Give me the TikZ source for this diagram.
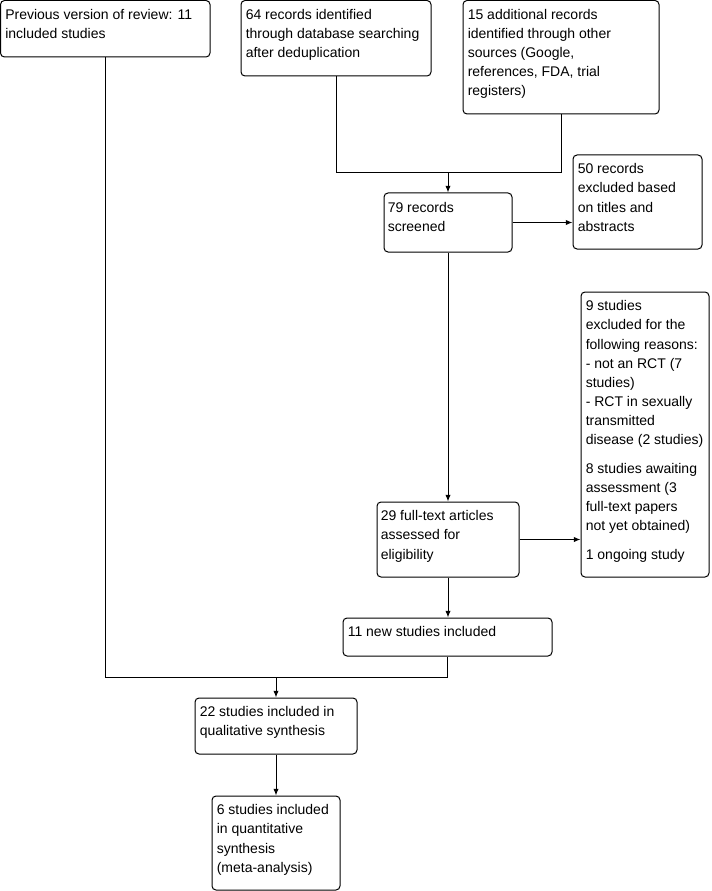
\documentclass[tikz,border=0pt]{standalone}
\usepackage{fontspec}
\setmainfont{Liberation Sans}
\usetikzlibrary{fit,arrows.meta}
\tikzset{
  box/.style={draw, line width=0.75pt, rounded corners=3pt, inner sep=0pt},
  txt/.style={anchor=north west, inner sep=0pt, align=left, font=\fontsize{10.5}{14.3}\selectfont},
  arr/.style={-{Latex[length=5pt,width=4pt]}, line width=0.75pt},
  ln/.style={line width=0.75pt}
}
\begin{document}
\begin{tikzpicture}[x=0.75pt,y=-0.75pt]
\useasboundingbox (0,0) rectangle (711,891);
% boxes
\node[box, fit={(0.5,0.5)(210,57)}] (prev) {};
\node[box, fit={(241,0.5)(431,76)}] (db) {};
\node[box, fit={(463,0.5)(659,114)}] (other) {};
\node[box, fit={(384,193)(512,252)}] (screen) {};
\node[box, fit={(573,155)(702,249)}] (excla) {};
\node[box, fit={(377,502)(519,577)}] (full) {};
\node[box, fit={(581,292)(709,577)}] (exclb) {};
\node[box, fit={(343,618)(552,656)}] (new) {};
\node[box, fit={(195,698)(357,754)}] (qual) {};
\node[box, fit={(212,796)(340,890)}] (quant) {};
% texts
\node[txt] (tprev) at ([shift={(5,9)}]prev.north west) {Previous version of review: 11\\included studies};
\node[txt] (tdb) at ([shift={(5,9)}]db.north west) {64 records identified\\through database searching\\after deduplication};
\node[txt] (tother) at ([shift={(5,9)}]other.north west) {15 additional records\\identified through other\\sources (Google,\\references, FDA, trial\\registers)};
\node[txt] (tscreen) at ([shift={(4,10)}]screen.north west) {79 records\\screened};
\node[txt] (texcla) at ([shift={(5,9)}]excla.north west) {50 records\\excluded based\\on titles and\\abstracts};
\node[txt] (tfull) at ([shift={(4,9)}]full.north west) {29 full-text articles\\assessed for\\eligibility};
\node[txt] (texclb) at ([shift={(5,9)}]exclb.north west) {9 studies\\excluded for the\\following reasons:\\- not an RCT (7\\studies)\\- RCT in sexually\\transmitted\\disease (2 studies)\\[7.5pt]8 studies awaiting\\assessment (3\\full-text papers\\not yet obtained)\\[7.5pt]1 ongoing study};
\node[txt] (tnew) at ([shift={(5,9)}]new.north west) {11 new studies included};
\node[txt] (tqual) at ([shift={(5,9)}]qual.north west) {22 studies included in\\qualitative synthesis};
\node[txt] (tquant) at ([shift={(5,9)}]quant.north west) {6 studies included\\in quantitative\\synthesis\\(meta-analysis)};
% connectors
\coordinate (ma) at (448,173);
\draw[ln] (db.south) |- (other.south |- ma) -- (other.south);
\draw[arr] (ma) -- (screen.north);
\draw[arr] (screen.east) -- (excla.west |- screen.east);
\draw[arr] (screen.south) -- (full.north);
\draw[arr] (full.east) -- (exclb.west |- full.east);
\draw[arr] (full.south) -- (full.south |- new.north);
\coordinate (mb) at (276,677);
\draw[ln] (prev.south) |- (new.south |- mb) -- (new.south);
\draw[arr] (mb) -- (qual.north);
\draw[arr] (qual.south) -- (quant.north);
\end{tikzpicture}
\end{document}
